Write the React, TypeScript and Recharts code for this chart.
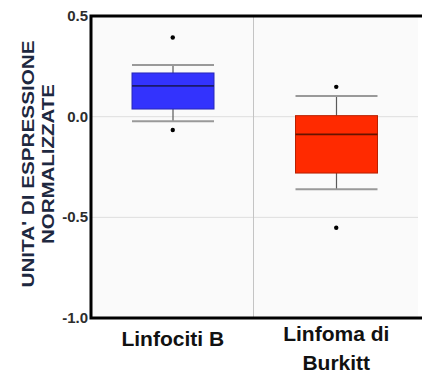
import React from 'react';
import {
  ComposedChart,
  Bar,
  Scatter,
  XAxis,
  YAxis,
  CartesianGrid,
  ReferenceArea,
} from 'recharts';

const categories = ['Linfociti B', 'Linfoma di\nBurkitt'];
const whiskerLow = [-0.023, -0.361];
const q1 = [0.038, -0.28];
const median = [0.153, -0.088];
const q3 = [0.217, 0.005];
const whiskerHigh = [0.257, 0.103];
const outlierHigh = [0.393, 0.148];
const outlierLow = [-0.066, -0.552];
const yTicks = [-1.0, -0.5, 0.0, 0.5];
const yLabelLines = ["UNITA' DI ESPRESSIONE", 'NORMALIZZATE'];

const boxFill = ['#3333fd', '#ff2a00'];
const boxStroke = ['#2828b8', '#b82000'];
const medianStroke = ['#1a1a6a', '#661400'];

const data = categories.map((name, i) => ({
  name,
  low: whiskerLow[i],
  q1: q1[i],
  median: median[i],
  q3: q3[i],
  high: whiskerHigh[i],
  outHi: outlierHigh[i],
  outLo: outlierLow[i],
  idx: i,
}));

const FONT = '"Liberation Sans", Arial, sans-serif';

const BoxShape = (props: any) => {
  const { x, y, width, height, payload } = props;
  if (!payload) return null;
  const top = Math.min(y, y + height);
  const bottom = Math.max(y, y + height);
  const ppu = (bottom - top) / (payload.high - payload.low);
  const toPx = (v: number) => top + (payload.high - v) * ppu;
  const cx = x + width / 2;
  const i = payload.idx;
  const yq3 = toPx(payload.q3);
  const yq1 = toPx(payload.q1);
  const ym = toPx(payload.median);
  return (
    <g>
      <line x1={cx} x2={cx} y1={top} y2={yq3} stroke="#5a5a5a" strokeWidth={1.2} />
      <line x1={cx} x2={cx} y1={yq1} y2={bottom} stroke="#5a5a5a" strokeWidth={1.2} />
      <line x1={x} x2={x + width} y1={top} y2={top} stroke="#999" strokeWidth={2} />
      <line x1={x} x2={x + width} y1={bottom} y2={bottom} stroke="#999" strokeWidth={2} />
      <rect x={x} y={yq3} width={width} height={yq1 - yq3} fill={boxFill[i]} stroke={boxStroke[i]} strokeWidth={1} />
      <line x1={x} x2={x + width} y1={ym} y2={ym} stroke={medianStroke[i]} strokeWidth={1.6} />
    </g>
  );
};

const Dot = (props: any) => {
  const { cx, cy } = props;
  if (cx == null || cy == null) return null;
  return <circle cx={cx} cy={cy} r={2.2} fill="#000" />;
};

const XTick = (props: any) => {
  const { x, y, payload } = props;
  const lines = String(payload.value).split('\n');
  if (lines.length === 1) {
    return (
      <text x={x} y={y + 20} textAnchor="middle" fontFamily={FONT} fontWeight="bold" fontSize={21} fill="#111">
        {lines[0]}
      </text>
    );
  }
  return (
    <g>
      {lines.map((l, k) => (
        <text key={k} x={x} y={y + 15 + k * 29} textAnchor="middle" fontFamily={FONT} fontWeight="bold" fontSize={21} fill="#111">
          {l}
        </text>
      ))}
    </g>
  );
};

const YTick = (props: any) => {
  const { x, y, payload } = props;
  return (
    <text x={x} y={y} dy={5} textAnchor="end" fontFamily={FONT} fontWeight="bold" fontSize={15} fill="#2d2d2d">
      {Number(payload.value).toFixed(1)}
    </text>
  );
};

const YLabel = (props: any) => {
  const { viewBox } = props;
  const cy = viewBox.y + viewBox.height / 2 - 3;
  const xs = [28, 48];
  const lens = [247, 160];
  return (
    <g>
      {yLabelLines.map((l, k) => (
        <text
          key={k}
          x={xs[k]}
          y={cy}
          transform={`rotate(-90, ${xs[k]}, ${cy})`}
          textAnchor="middle"
          dominantBaseline="central"
          fontFamily={FONT}
          fontWeight="bold"
          fontSize={16}
          fill="#1e2840"
          textLength={lens[k]}
          lengthAdjust="spacingAndGlyphs"
        >
          {l}
        </text>
      ))}
    </g>
  );
};

export default function App() {
  return (
    <div style={{ position: 'absolute', left: 0, top: 0, width: 422, height: 375, background: '#fff' }}>
      <ComposedChart
        width={422}
        height={375}
        data={data}
        margin={{ top: 16, right: 4, bottom: 0, left: 0 }}
      >
        <CartesianGrid vertical={false} stroke="#dedede" fill="#fafafa" />
        <CartesianGrid
          horizontal={false}
          stroke="#c4c4c4"
          verticalCoordinatesGenerator={(p: any) => [p.offset.left + p.offset.width / 2 - 1]}
        />
        <XAxis
          dataKey="name"
          type="category"
          axisLine={false}
          tickLine={false}
          height={57}
          tick={<XTick />}
          interval={0}
        />
        <XAxis xAxisId="n" type="number" domain={[0, 2]} allowDataOverflow hide />
        <YAxis
          type="number"
          domain={[-1, 0.5]}
          ticks={yTicks}
          allowDataOverflow
          width={91}
          axisLine={false}
          tickLine={false}
          tickSize={0}
          tickMargin={3}
          tick={<YTick />}
          label={<YLabel />}
        />
        <Bar
          dataKey={(d: any) => [d.low, d.high]}
          barSize={82}
          shape={<BoxShape />}
          isAnimationActive={false}
        />
        <Scatter dataKey="outHi" shape={<Dot />} isAnimationActive={false} />
        <Scatter dataKey="outLo" shape={<Dot />} isAnimationActive={false} />
        <ReferenceArea
          xAxisId="n"
          x1={0}
          x2={2}
          y1={-1}
          y2={0.5}
          fill="none"
          fillOpacity={0}
          stroke="#000"
          strokeWidth={3}
          ifOverflow="visible"
        />
      </ComposedChart>
    </div>
  );
}
